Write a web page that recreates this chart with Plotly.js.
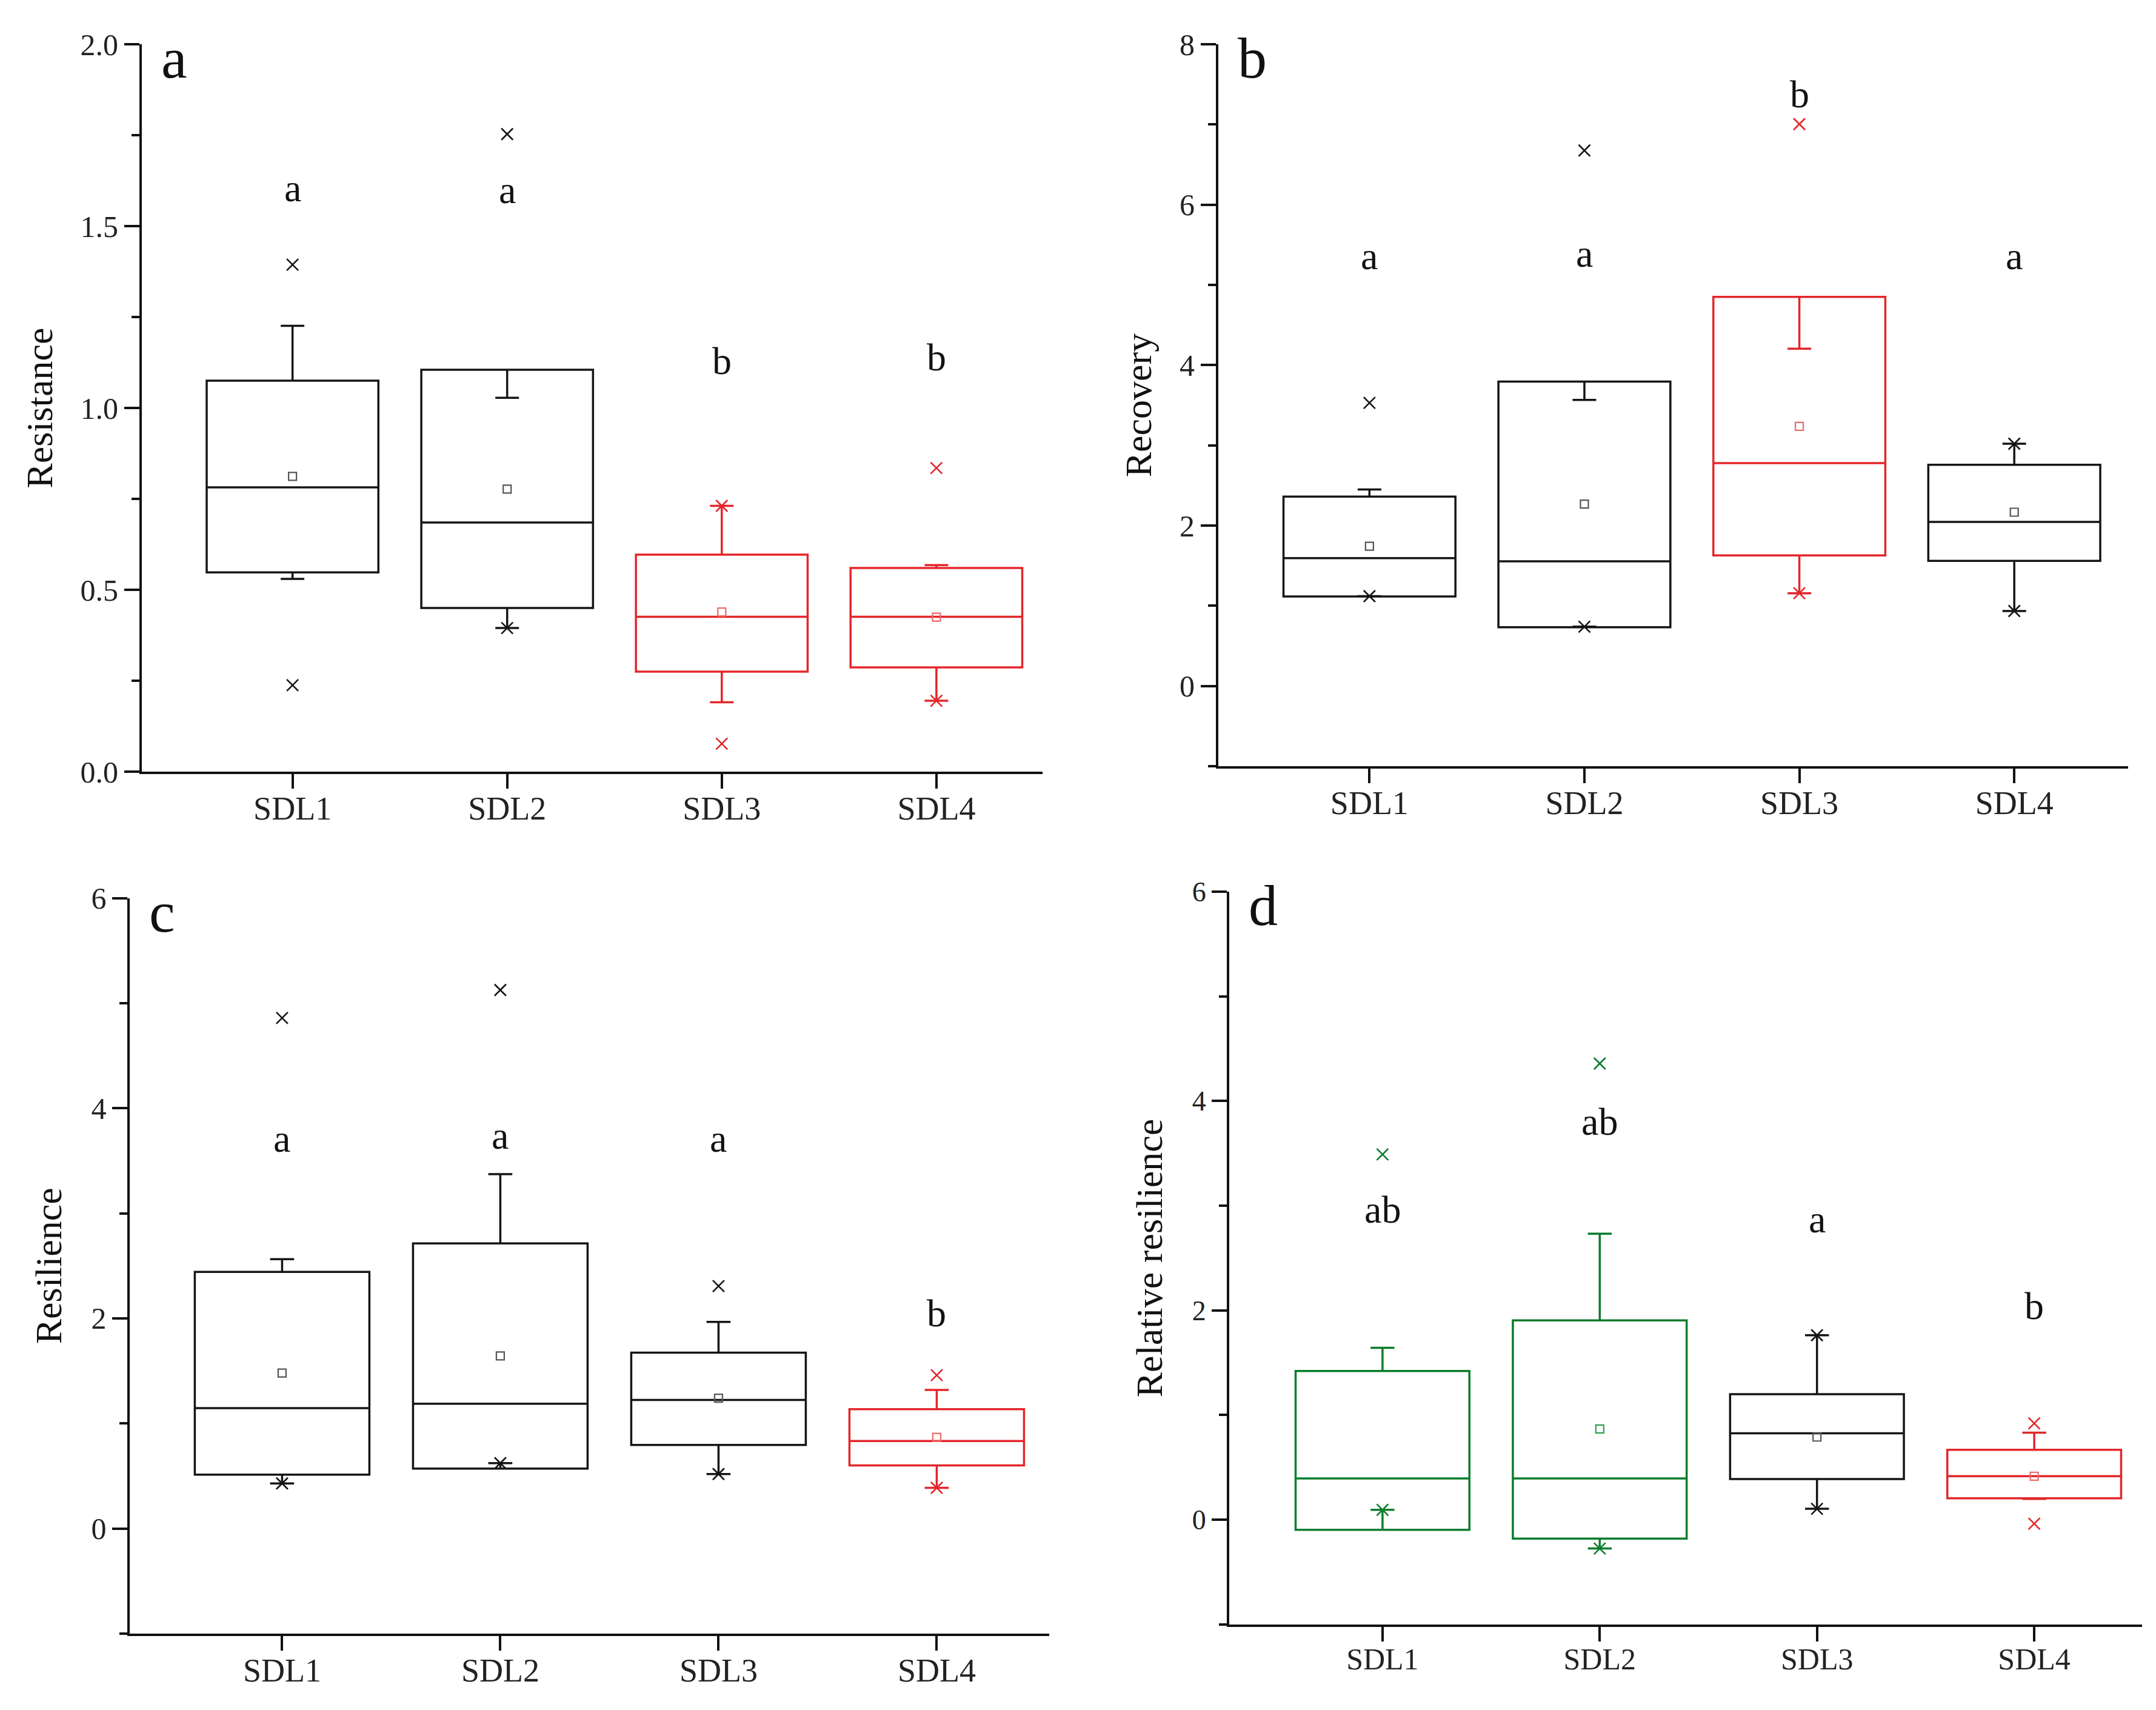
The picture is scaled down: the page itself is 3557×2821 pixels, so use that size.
<!DOCTYPE html>
<html>
<head>
<meta charset="utf-8">
<script src="https://cdn.plot.ly/plotly-3.0.1.min.js"></script>
<style>
  html, body { margin: 0; padding: 0; background: #ffffff; }
  #chart { width: 3557px; height: 2821px; }
</style>
</head>
<body>
<div id="chart"></div>
<script>
// Site groups on the x axis
const groups = ['SDL1', 'SDL2', 'SDL3', 'SDL4'];

// (a) Resistance
const resQ1     = [0.548, 0.450, 0.275, 0.287];
const resMedian = [0.782, 0.685, 0.426, 0.426];
const resQ3     = [1.075, 1.105, 0.597, 0.560];
const resLow    = [0.530, 0.395, 0.191, 0.195];
const resHigh   = [1.226, 1.028, 0.731, 0.568];
const resMean   = [0.812, 0.777, 0.439, 0.425];
const resMarks  = [[1.394, 0.238], [1.753, 0.395], [0.731, 0.077], [0.835, 0.195]];
const resLetters = ['a', 'a', 'b', 'b'];

// (b) Recovery
const recQ1     = [1.117, 0.733, 1.629, 1.561];
const recMedian = [1.595, 1.555, 2.779, 2.046];
const recQ3     = [2.362, 3.795, 4.852, 2.759];
const recLow    = [1.120, 0.740, 1.157, 0.935];
const recHigh   = [2.450, 3.567, 4.206, 3.021];
const recMean   = [1.743, 2.268, 3.237, 2.167];
const recMarks  = [[3.530, 1.120], [6.676, 0.740], [7.005, 1.157], [3.021, 0.935]];
const recLetters = ['a', 'a', 'b', 'a'];

// (c) Resilience
const rslQ1     = [0.513, 0.570, 0.795, 0.601];
const rslMedian = [1.145, 1.187, 1.224, 0.832];
const rslQ3     = [2.443, 2.714, 1.674, 1.135];
const rslLow    = [0.429, 0.622, 0.518, 0.387];
const rslHigh   = [2.563, 3.373, 1.967, 1.318];
const rslMean   = [1.480, 1.642, 1.240, 0.868];
const rslMarks  = [[4.859, 0.429], [5.125, 0.622], [2.307, 0.518], [1.459, 0.387]];
const rslLetters = ['a', 'a', 'a', 'b'];

// (d) Relative resilience
const relQ1     = [-0.095, -0.179, 0.389, 0.205];
const relMedian = [0.395, 0.395, 0.826, 0.416];
const relQ3     = [1.421, 1.905, 1.200, 0.668];
const relLow    = [0.095, -0.274, 0.105, 0.200];
const relHigh   = [1.642, 2.732, 1.763, 0.832];
const relMean   = [null, 0.868, 0.790, 0.416];
const relMarks  = [[3.490, 0.095], [4.358, -0.274], [1.763, 0.105], [0.921, -0.037]];
const relLetters = ['ab', 'ab', 'a', 'b'];

// ---- styling ----
const FONT = 'Liberation Serif, Times New Roman, serif';
const INK = '#111111';
const PALETTE = {
  k: { line: '#151515', mean: '#555555' },
  r: { line: '#e3262b', mean: '#ec6a6a' },
  g: { line: '#0a7d2c', mean: '#2f9a4c' }
};
const BOX_WIDTH = 0.8;
const CAP_HALF = 0.055;

const panels = [
  { tag: 'a', title: 'Resistance', q1: resQ1, med: resMedian, q3: resQ3, lo: resLow, hi: resHigh,
    mean: resMean, marks: resMarks, letters: resLetters, colors: ['k', 'k', 'r', 'r'],
    letterY: [1.605, 1.60, 1.13, 1.14],
    xdom: [0.0658, 0.4836], ydom: [0.5487, 0.9741], xr: [-0.702, 3.495], yr: [0, 2],
    dtick: 0.5, minor: 0.25, fmt: '.1f', tickSize: 50, catSize: 54, standoff: 27 },
  { tag: 'b', title: 'Recovery', q1: recQ1, med: recMedian, q3: recQ3, lo: recLow, hi: recHigh,
    mean: recMean, marks: recMarks, letters: recLetters, colors: ['k', 'k', 'r', 'k'],
    letterY: [5.36, 5.39, 7.38, 5.36],
    xdom: [0.5651, 0.9871], ydom: [0.5519, 0.9741], xr: [-0.703, 3.53], yr: [-1, 8],
    dtick: 2, minor: 1, fmt: 'd', tickSize: 50, catSize: 54, standoff: 27 },
  { tag: 'c', title: 'Resilience', q1: rslQ1, med: rslMedian, q3: rslQ3, lo: rslLow, hi: rslHigh,
    mean: rslMean, marks: rslMarks, letters: rslLetters, colors: ['k', 'k', 'k', 'r'],
    letterY: [3.71, 3.74, 3.71, 2.05],
    xdom: [0.0603, 0.4866], ydom: [0.0447, 0.4748], xr: [-0.697, 3.515], yr: [-1, 6],
    dtick: 2, minor: 1, fmt: 'd', tickSize: 50, catSize: 54, standoff: 30 },
  { tag: 'd', title: 'Relative resilience', q1: relQ1, med: relMedian, q3: relQ3, lo: relLow, hi: relHigh,
    mean: relMean, marks: relMarks, letters: relLetters, colors: ['g', 'g', 'k', 'r'],
    letterY: [2.96, 3.80, 2.87, 2.04],
    xdom: [0.5701, 0.9935], ydom: [0.0500, 0.4786], xr: [-0.706, 3.496], yr: [-1, 6],
    dtick: 2, minor: 1, fmt: 'd', tickSize: 46, catSize: 50, standoff: 30 }
];

const data = [];
const layout = {
  width: 3557, height: 2821,
  margin: { l: 0, r: 0, t: 0, b: 0 },
  paper_bgcolor: '#ffffff', plot_bgcolor: '#ffffff',
  showlegend: false, boxmode: 'overlay',
  font: { family: FONT, color: INK },
  annotations: []
};

panels.forEach((p, k) => {
  const sfx = k === 0 ? '' : String(k + 1);
  const xa = 'x' + sfx, ya = 'y' + sfx;

  groups.forEach((g, i) => {
    const c = PALETTE[p.colors[i]];
    // box body and median
    data.push({
      type: 'box', x: [i], q1: [p.q1[i]], median: [p.med[i]], q3: [p.q3[i]],
      lowerfence: [p.q1[i]], upperfence: [p.q3[i]],
      width: BOX_WIDTH, whiskerwidth: 0, boxpoints: false,
      line: { color: c.line, width: 3.5 }, fillcolor: 'rgba(0,0,0,0)',
      xaxis: xa, yaxis: ya, hoverinfo: 'skip', name: g
    });
    // whiskers with caps, drawn from the box edge to the whisker end
    data.push({
      type: 'scatter', mode: 'lines',
      x: [i, i, null, i - CAP_HALF, i + CAP_HALF, null, i, i, null, i - CAP_HALF, i + CAP_HALF],
      y: [p.q3[i], p.hi[i], null, p.hi[i], p.hi[i], null, p.q1[i], p.lo[i], null, p.lo[i], p.lo[i]],
      line: { color: c.line, width: 3.5 }, xaxis: xa, yaxis: ya, hoverinfo: 'skip'
    });
    // mean
    if (p.mean[i] !== null) {
      data.push({
        type: 'scatter', mode: 'markers', x: [i], y: [p.mean[i]],
        marker: { symbol: 'square-open', size: 13, color: c.mean, line: { width: 2.2 } },
        xaxis: xa, yaxis: ya, hoverinfo: 'skip'
      });
    }
    // max / min markers
    data.push({
      type: 'scatter', mode: 'markers', x: p.marks[i].map(() => i), y: p.marks[i],
      marker: { symbol: 'x-thin-open', size: 19, color: c.line, line: { width: 2.6, color: c.line } },
      xaxis: xa, yaxis: ya, hoverinfo: 'skip', cliponaxis: false
    });
    // significance letters
    layout.annotations.push({
      xref: xa, yref: ya, x: i, y: p.letterY[i], text: p.letters[i], showarrow: false,
      xanchor: 'center', yanchor: 'middle', font: { family: FONT, size: 64, color: INK }
    });
  });

  // panel tag
  layout.annotations.push({
    xref: xa + ' domain', yref: ya + ' domain', x: 0, y: 1, xshift: 30, yshift: 33,
    xanchor: 'left', yanchor: 'top', text: p.tag, showarrow: false,
    font: { family: FONT, size: 96, color: INK }
  });

  layout['xaxis' + sfx] = {
    domain: p.xdom, range: p.xr, anchor: ya,
    tickmode: 'array', tickvals: [0, 1, 2, 3], ticktext: groups,
    showline: true, linewidth: 4, linecolor: INK, mirror: false,
    ticks: 'outside', ticklen: 24, tickwidth: 4, tickcolor: INK,
    ticklabelstandoff: -14,
    showgrid: false, zeroline: false,
    tickfont: { family: FONT, size: p.catSize, color: '#222' }
  };
  layout['yaxis' + sfx] = {
    domain: p.ydom, range: p.yr, anchor: xa,
    tick0: 0, dtick: p.dtick, tickformat: p.fmt,
    showline: true, linewidth: 4, linecolor: INK,
    ticks: 'outside', ticklen: 25, tickwidth: 4, tickcolor: INK,
    minor: { tick0: 0, dtick: p.minor, ticks: 'outside', ticklen: 13, tickwidth: 4, tickcolor: INK, showgrid: false },
    showgrid: false, zeroline: false,
    tickfont: { family: FONT, size: p.tickSize, color: '#222' },
    title: { text: p.title, standoff: p.standoff, font: { family: FONT, size: 62, color: INK } }
  };
});

Plotly.newPlot('chart', data, layout, { displayModeBar: false, staticPlot: true });
</script>
</body>
</html>
